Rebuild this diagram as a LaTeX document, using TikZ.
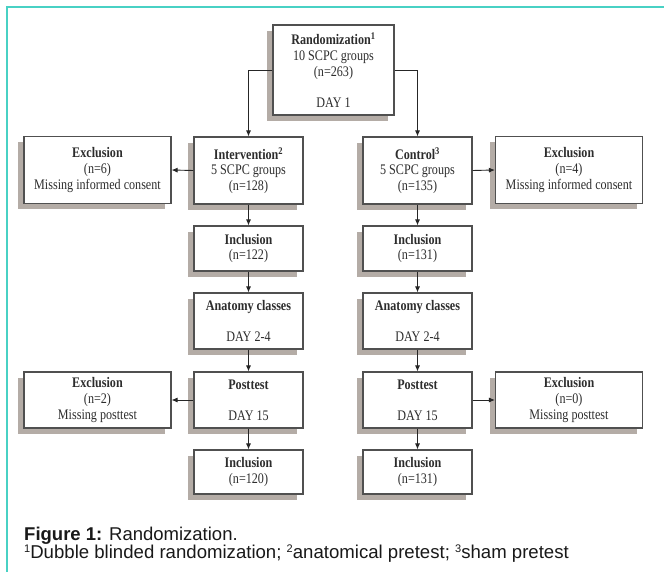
\documentclass[tikz,border=0pt]{standalone}
\usepackage{fontspec}
\newfontfamily\boxfont[FakeStretch=0.83]{Liberation Serif}
\newfontfamily\capfont{Liberation Sans}
\usetikzlibrary{arrows.meta,shadows}
\definecolor{teal1}{RGB}{72,209,196}
\definecolor{boxline}{RGB}{80,80,80}
\definecolor{shade}{RGB}{180,172,166}
\definecolor{txt}{RGB}{45,45,45}
\newcommand{\fnsup}[1]{\raisebox{6pt}{\fontsize{11pt}{11pt}\selectfont #1}}
\tikzset{
  fbox/.style={draw=boxline, line width=1.1pt, fill=white, inner sep=0pt,
    align=center, text=txt,
    font=\boxfont\fontsize{14.6pt}{15.7pt}\selectfont,
    drop shadow={shadow xshift=-6pt, shadow yshift=-6pt, fill=shade, opacity=1}},
  midbox/.style={fbox, minimum width=109pt},
  exbox/.style={fbox, minimum width=147pt},
  conn/.style={draw=black!85, line width=0.9pt, -{Latex[length=6pt,width=5pt]}}
}
\begin{document}
\begin{tikzpicture}[x=1pt,y=-1pt]
\useasboundingbox[fill=white] (0,0) rectangle (664,572);
\draw[teal1, line width=1.6pt] (664,7) -- (7,7) -- (7,572);

\node[fbox, minimum width=121pt, minimum height=90pt] (rand) at (333.5,70)
  {\textbf{Randomization\textsuperscript{1}}\\10 SCPC groups\\(n=263)\\[15.5pt]DAY 1};

\node[midbox, minimum height=67pt] (int) at (248.5,170.5)
  {\textbf{Intervention\textsuperscript{2}}\\5 SCPC groups\\(n=128)};
\node[midbox, minimum height=67pt] (ctl) at (417.5,170.5)
  {\textbf{Control\textsuperscript{3}}\\5 SCPC groups\\(n=135)};
\node[exbox, minimum height=67pt] (exl1) at (97.5,170)
  {\textbf{Exclusion}\\(n=6)\\Missing informed consent};
\node[exbox, minimum height=67pt] (exr1) at (569,170)
  {\textbf{Exclusion}\\(n=4)\\Missing informed consent};

\node[midbox, minimum height=45pt] (incl1) at (248.5,248.5)
  {\textbf{Inclusion}\\(n=122)};
\node[midbox, minimum height=45pt] (incr1) at (417.5,248.5)
  {\textbf{Inclusion}\\(n=131)};

\node[midbox, minimum height=56pt] (anl) at (248.5,321)
  {\textbf{Anatomy classes}\\[15.3pt]DAY 2-4};
\node[midbox, minimum height=56pt] (anr) at (417.5,321)
  {\textbf{Anatomy classes}\\[15.3pt]DAY 2-4};

\node[midbox, minimum height=56pt] (pol) at (248.5,400)
  {\textbf{Posttest}\\[15.3pt]DAY 15};
\node[midbox, minimum height=56pt] (por) at (417.5,400)
  {\textbf{Posttest}\\[15.3pt]DAY 15};
\node[exbox, minimum height=56pt] (exl2) at (97.5,400)
  {\textbf{Exclusion}\\(n=2)\\Missing posttest};
\node[exbox, minimum height=56pt] (exr2) at (569,400)
  {\textbf{Exclusion}\\(n=0)\\Missing posttest};

\node[midbox, minimum height=44pt] (incl2) at (248.5,472)
  {\textbf{Inclusion}\\(n=120)};
\node[midbox, minimum height=44pt] (incr2) at (417.5,472)
  {\textbf{Inclusion}\\(n=131)};

\draw[conn] (rand.west) -| (int.north);
\draw[conn] (rand.east) -| (ctl.north);
\draw[conn] (int.west) -- (exl1.east);
\draw[conn] (ctl.east) -- (exr1.west);
\draw[conn] (int.south) -- (incl1.north);
\draw[conn] (ctl.south) -- (incr1.north);
\draw[conn] (incl1.south) -- (anl.north);
\draw[conn] (incr1.south) -- (anr.north);
\draw[conn] (anl.south) -- (pol.north);
\draw[conn] (anr.south) -- (por.north);
\draw[conn] (pol.west) -- (exl2.east);
\draw[conn] (por.east) -- (exr2.west);
\draw[conn] (pol.south) -- (incl2.north);
\draw[conn] (por.south) -- (incr2.north);

\node[anchor=base west, inner sep=0pt, text=black!90,
  font=\capfont\fontsize{18.5pt}{20pt}\selectfont] (cap) at (24,540)
  {\textbf{Figure 1:} Randomization.};
\node[anchor=base west, inner sep=0pt, text=black!90,
  font=\capfont\fontsize{18.6pt}{20pt}\selectfont] (foot) at (24,558.5)
  {\fnsup{1}Dubble blinded randomization; \fnsup{2}anatomical pretest; \fnsup{3}sham pretest};
\end{tikzpicture}
\end{document}
